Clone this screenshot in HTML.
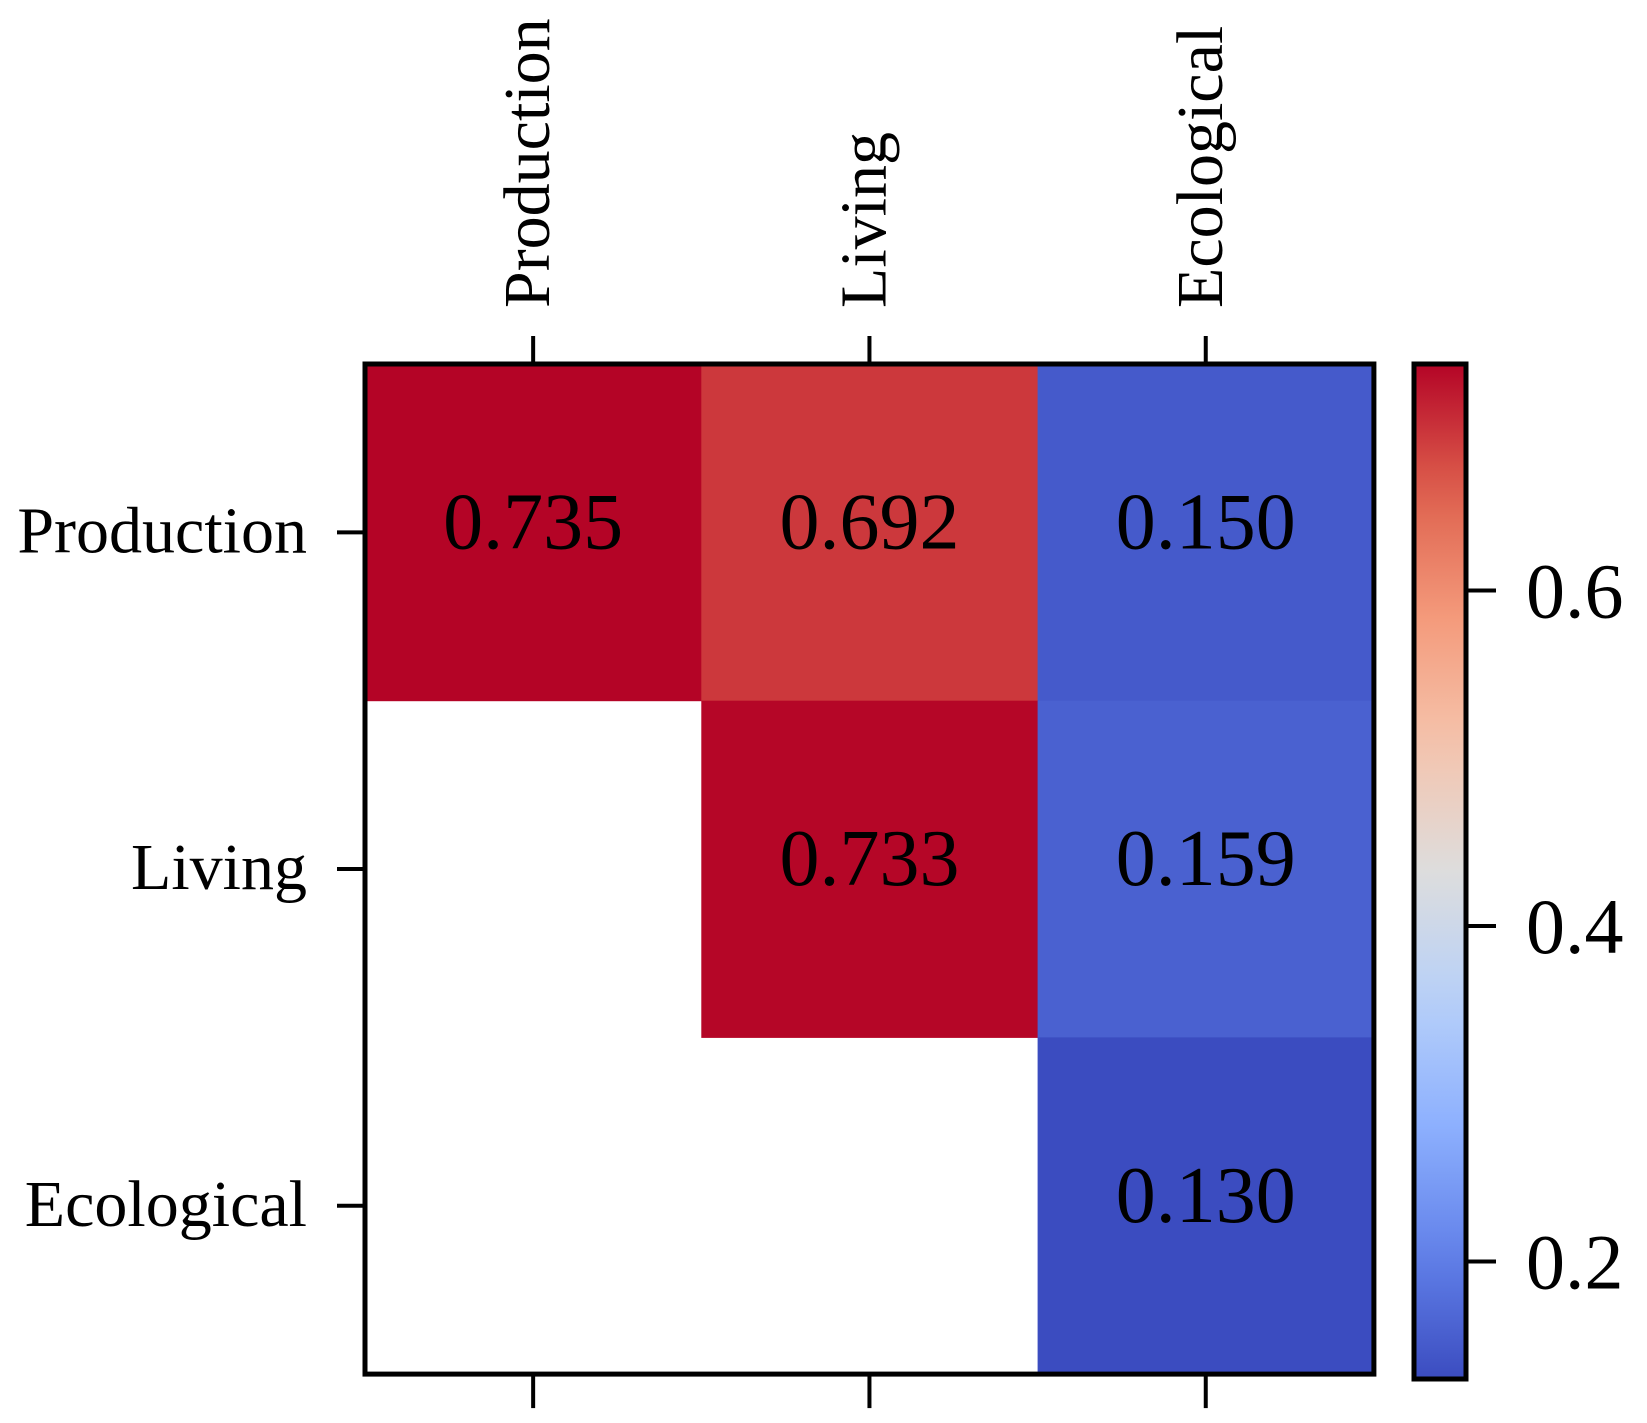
<!DOCTYPE html>
<html><head><meta charset="utf-8"><style>
html,body{margin:0;padding:0;background:#fff;}
svg{display:block;font-family:"Liberation Serif",serif;}
</style></head><body>
<svg id="chart" width="1647" height="1423" viewBox="0 0 1647 1423">
<defs><linearGradient id="cg" x1="0" y1="1" x2="0" y2="0"></linearGradient></defs>
<g id="cells"></g>
<g id="axes"></g>
<g id="cbar"></g>
</svg>
<script>
const categories = ["Production", "Living", "Ecological"];
const rowProduction = [0.735, 0.692, 0.150];
const rowLiving = [null, 0.733, 0.159];
const rowEcological = [null, null, 0.130];
const colorbarTicks = [0.2, 0.4, 0.6];
const colorbarTickLabels = ["0.2", "0.4", "0.6"];
const vmin = 0.13, vmax = 0.735;

const rows = [rowProduction, rowLiving, rowEcological];
const NS = "http://www.w3.org/2000/svg";
const X0 = 365, Y0 = 364, CW = 336.3, CH = 336.7;
const xPos = i => X0 + i * CW;
const yPos = j => Y0 + j * CH;
const CBX = 1414, CBW = 52, CBT = 364, CBB = 1379;
const cbY = v => CBB - (v - vmin) / (vmax - vmin) * (CBB - CBT);

const cw = [[0,59,76,192],[0.125,98,130,234],[0.25,141,176,254],[0.375,184,208,249],[0.5,221,221,221],[0.625,245,196,173],[0.75,244,154,123],[0.875,222,96,77],[1,180,4,38]];
function coolwarm(t){t=Math.max(0,Math.min(1,t));for(let i=1;i<cw.length;i++){if(t<=cw[i][0]){const a=cw[i-1],b=cw[i],f=(t-a[0])/(b[0]-a[0]);return `rgb(${Math.round(a[1]+f*(b[1]-a[1]))},${Math.round(a[2]+f*(b[2]-a[2]))},${Math.round(a[3]+f*(b[3]-a[3]))})`;}}return "rgb(180,4,38)";}
function mk(tag, attrs, parent){const e=document.createElementNS(NS,tag);for(const k in attrs)e.setAttribute(k,attrs[k]);parent.appendChild(e);return e;}

const cells = document.getElementById("cells");
rows.forEach((r, j) => r.forEach((v, i) => {
  if (v === null) return;
  const rect = mk("rect", {x: xPos(i), y: yPos(j), width: CW + 0.5, height: CH + 0.5, fill: coolwarm((v - vmin) / (vmax - vmin))}, cells);
  
  
  const t = mk("text", {x: xPos(i) + CW / 2, y: yPos(j) + CH / 2 + 16, "text-anchor": "middle", "font-size": 80, fill: "#000"}, cells);
  t.textContent = v.toFixed(3);
  
  
}));

const axes = document.getElementById("axes");
const frame = mk("rect", {x: X0, y: Y0, width: 3 * CW, height: 3 * CH, fill: "none", stroke: "#000", "stroke-width": 5}, axes);


categories.forEach((c, i) => {
  const cx = xPos(i) + CW / 2, cy = yPos(i) + CH / 2;
  mk("line", {x1: cx, y1: Y0, x2: cx, y2: Y0 - 28, stroke: "#000", "stroke-width": 4}, axes);
  mk("line", {x1: cx, y1: Y0 + 3 * CH, x2: cx, y2: Y0 + 3 * CH + 34, stroke: "#000", "stroke-width": 4}, axes);
  mk("line", {x1: X0, y1: cy, x2: X0 - 28, y2: cy, stroke: "#000", "stroke-width": 4}, axes);
  const tl = mk("text", {x: 0, y: 0, transform: `translate(${cx + 16},308) rotate(-90)`, "font-size": 66, fill: "#000"}, axes);
  tl.textContent = c;
  
  
  const ll = mk("text", {x: 307, y: cy + 20, "text-anchor": "end", "font-size": 66, fill: "#000"}, axes);
  ll.textContent = c;
  
  
});

const grad = document.getElementById("cg");
for (let k = 0; k <= 20; k++) mk("stop", {offset: k / 20, "stop-color": coolwarm(k / 20)}, grad);
const cbar = document.getElementById("cbar");
const cb = mk("rect", {x: CBX, y: CBT, width: CBW, height: CBB - CBT, fill: "url(#cg)", stroke: "#000", "stroke-width": 5}, cbar);


colorbarTicks.forEach((v, k) => {
  const y = cbY(v);
  mk("line", {x1: CBX + CBW, y1: y, x2: CBX + CBW + 30, y2: y, stroke: "#000", "stroke-width": 4}, cbar);
  const t = mk("text", {x: 1526, y: y + 27, "font-size": 78, fill: "#000"}, cbar);
  t.textContent = colorbarTickLabels[k];
  
  
});
</script>
</body></html>
